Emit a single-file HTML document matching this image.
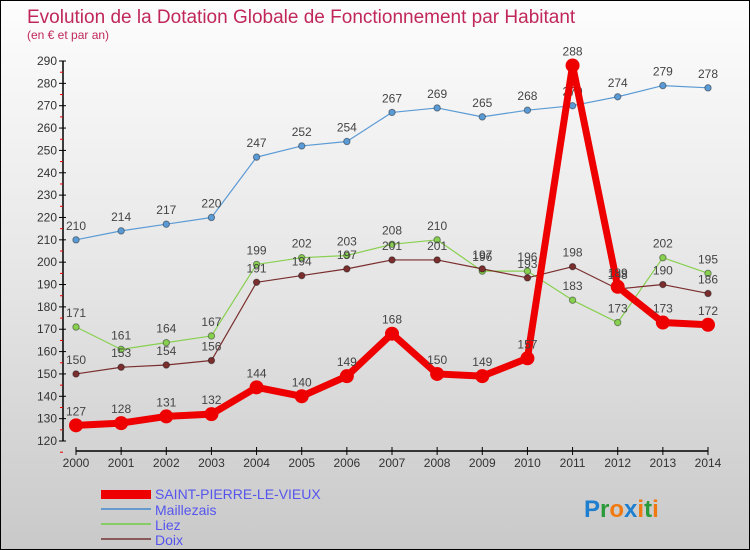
<!DOCTYPE html>
<html><head><meta charset="utf-8"><style>
body{margin:0;}
#wrap{position:relative;width:748px;height:548px;border:1px solid #000;background:linear-gradient(#fdfdfd,#e6e6e6 50%,#c9c9c9);overflow:hidden;font-family:"Liberation Sans",sans-serif;}
</style></head><body>
<div id="wrap">
<svg id="chart" width="748" height="548">
<text x="26" y="22" font-size="19" fill="#c0285a">Evolution de la Dotation Globale de Fonctionnement par Habitant</text>
<text x="26" y="38" font-size="12" fill="#c0285a">(en € et par an)</text>
<g id="axes"></g><g id="series"></g>
<g>
<rect x="100" y="489" width="50" height="9" fill="#e00"/>
<text x="154" y="498" font-size="14" fill="#5555ee">SAINT-PIERRE-LE-VIEUX</text>
<rect x="100" y="507" width="50" height="2" fill="#6699cc"/>
<text x="154" y="514" font-size="14" fill="#5555ee">Maillezais</text>
<rect x="100" y="522" width="50" height="2" fill="#88cc66"/>
<text x="154" y="529" font-size="14" fill="#5555ee">Liez</text>
<rect x="100" y="537" width="50" height="2" fill="#8a5a5a"/>
<text x="154" y="544" font-size="14" fill="#5555ee">Doix</text>
</g>
<text x="583" y="516" font-size="24" font-weight="bold"><tspan fill="#1e7fd0">P</tspan><tspan fill="#2a9a3a">r</tspan><tspan fill="#f07a10">o</tspan><tspan fill="#1e7fd0">x</tspan><tspan fill="#f07a10">i</tspan><tspan fill="#2a9a3a">t</tspan><tspan fill="#f07a10">i</tspan></text>
</svg>
</div>
<script>
const years=[2000,2001,2002,2003,2004,2005,2006,2007,2008,2009,2010,2011,2012,2013,2014];
const yTicks=[120,130,140,150,160,170,180,190,200,210,220,230,240,250,260,270,280,290];
const spv=[127,128,131,132,144,140,149,168,150,149,157,288,189,173,172];
const maillezais=[210,214,217,220,247,252,254,267,269,265,268,270,274,279,278];
const liez=[171,161,164,167,199,202,203,208,210,196,196,183,173,202,195];
const doix=[150,153,154,156,191,194,197,201,201,197,193,198,188,190,186];
const NS="http://www.w3.org/2000/svg";
const X=i=>75+i*(632/14);
const Y=v=>440-(v-120)*(380/170);
function mk(tag,attrs,parent){const e=document.createElementNS(NS,tag);for(const k in attrs)e.setAttribute(k,attrs[k]);parent.appendChild(e);return e;}
const ax=document.getElementById('axes');
const ser=document.getElementById('series');
const yl=mk('line',{x1:62,y1:Y(290),x2:62,y2:Y(120),stroke:'#000','stroke-width':1.5},ax);


yTicks.forEach(t=>{
 const y=Y(t);
 mk('line',{x1:58,y1:y,x2:65,y2:y,stroke:'#000'},ax);
 mk('line',{x1:59,y1:y+11.2,x2:62,y2:y+11.2,stroke:'#e00'},ax);
 const tx=mk('text',{x:56,y:y+4,'font-size':12,fill:'#333','text-anchor':'end'},ax);
 tx.textContent=t;
 
 
});
const xl=mk('line',{x1:75,y1:450,x2:707,y2:450,stroke:'#000','stroke-width':1.5},ax);


years.forEach((yr,i)=>{
 mk('line',{x1:X(i),y1:446,x2:X(i),y2:454,stroke:'#000'},ax);
 const tx=mk('text',{x:X(i),y:466,'font-size':12,fill:'#333','text-anchor':'middle'},ax);
 tx.textContent=yr;
 
 
});
function draw(name,vals,color,w,r,lblColor){
 const g=mk('g',{},ser);
 
 
 const pl=mk('polyline',{points:vals.map((v,i)=>X(i)+','+Y(v)).join(' '),fill:'none',stroke:color,'stroke-width':w,'stroke-linejoin':'round'},g);
 
 
 vals.forEach((v,i)=>{
  const c=mk('circle',{cx:X(i),cy:Y(v),r:r,fill:color,stroke:'rgba(0,0,0,0.4)','stroke-width':w>3?0:1},g);
  
  
  const t=mk('text',{x:X(i),y:Y(v)-10,'font-size':12,fill:'#444','text-anchor':'middle'},g);
  t.textContent=v;
  
  
 });
}
draw('maillezais',maillezais,'#5b9bd5',1.2,3.2);
draw('liez',liez,'#88d050',1.2,3.2);
draw('doix',doix,'#7a2e2e',1.2,3.2);
draw('saint-pierre-le-vieux',spv,'#ee0000',7,7);
</script>
</body></html>
